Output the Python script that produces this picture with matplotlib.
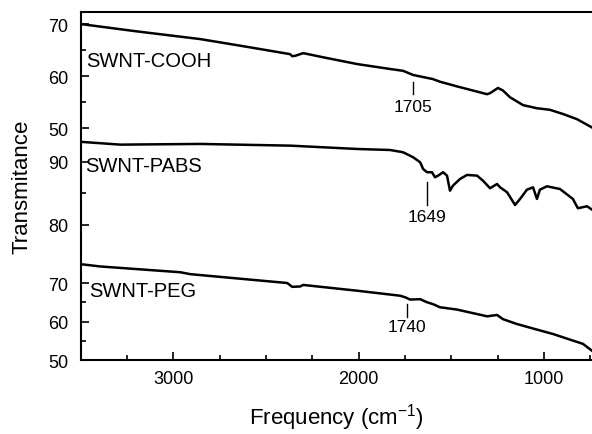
import matplotlib
matplotlib.use("Agg")
import matplotlib.pyplot as plt
from matplotlib.ticker import MultipleLocator, FixedLocator

plt.rcParams['font.family'] = ['Liberation Sans', 'DejaVu Sans']
plt.rcParams['mathtext.fontset'] = 'custom'
plt.rcParams['mathtext.rm'] = 'Liberation Sans'
plt.rcParams['mathtext.it'] = 'Liberation Sans'

# ---- data ----
cooh_x = [3500, 3200, 2854, 2600, 2369, 2358, 2340, 2299, 2191, 2008, 1830, 1760, 1706,
          1598, 1561, 1469, 1307, 1291, 1248, 1221, 1183, 1113, 1038, 968, 898, 822, 741]
cooh_y = [70.0, 68.6, 67.1, 65.6, 64.2, 63.8, 63.9, 64.4, 63.6, 62.3, 61.35, 61.0, 60.2,
          59.4, 58.9, 58.0, 56.5, 56.7, 57.7, 57.2, 55.9, 54.4, 53.8, 53.5, 52.7, 51.7, 50.1]

pabs_x = [3500, 3286, 2854, 2369, 2191, 2008, 1830, 1760, 1706, 1668, 1652, 1631, 1604,
          1588, 1571, 1544, 1523, 1507, 1491, 1453, 1415, 1361, 1329, 1291, 1253, 1237,
          1199, 1156, 1129, 1092, 1059, 1038, 1022, 984, 914, 844, 817, 768, 741]
pabs_y = [93.2, 92.75, 92.86, 92.59, 92.33, 92.06, 91.9, 91.54, 90.75, 89.95, 88.89, 88.37, 88.37,
          87.57, 87.83, 88.37, 87.83, 85.44, 86.24, 87.3, 87.94, 87.83, 87.03, 85.83, 86.51, 85.98,
          85.19, 83.17, 84.13, 85.6, 85.98, 84.13, 85.6, 86.14, 85.71, 84.13, 82.65, 82.97, 82.43]

peg_x = [3500, 3394, 2962, 2908, 2385, 2358, 2315, 2299, 2008, 1776, 1749, 1722, 1668,
         1631, 1598, 1561, 1469, 1307, 1253, 1221, 1146, 1038, 951, 860, 790, 741]
peg_y = [74.9, 74.3, 72.8, 72.3, 70.0, 69.0, 69.1, 69.5, 68.0, 66.7, 66.3, 65.7, 65.8,
         65.0, 64.5, 63.7, 63.1, 61.35, 61.7, 60.6, 59.35, 57.9, 56.75, 55.3, 54.2, 52.4]

names = ['SWNT-COOH', 'SWNT-PABS', 'SWNT-PEG']
peaks = [1705, 1649, 1740]
x_ticks = [3000, 2000, 1000]

# ---- figure ----
fig = plt.figure(figsize=(5.92, 4.35), dpi=100)
rect = [80.5 / 592, 1 - 361 / 435, 1 - 80.5 / 592, (361 - 13) / 435]

ax0 = fig.add_axes(rect)
ax0.set_xlim(3500, 741)
ax0.set_ylim(0, 1)
ax0.set_yticks([])
ax0.spines['right'].set_visible(False)
for s in ['top', 'left', 'bottom']:
    ax0.spines[s].set_linewidth(1.5)
ax0.xaxis.set_major_locator(FixedLocator(x_ticks))
ax0.xaxis.set_minor_locator(MultipleLocator(250))
ax0.tick_params(axis='x', which='major', direction='in', length=6, width=1.2,
                labelsize=13, pad=7)
ax0.tick_params(axis='x', which='minor', direction='in', length=3.5, width=1.2)
ax0.set_xlabel('Frequency (cm$^{-1}$)', fontsize=16, labelpad=10)
fig.text(22 / 592, 1 - 187 / 435, 'Transmitance', fontsize=16, rotation=90,
         ha='center', va='center')

panel_ylims = [(5.38, 72.31), (58.57, 113.8), (50.0, 140.4)]
major_ticks = [[50, 60, 70], [80, 90], [50, 60, 70]]
minor_ticks = [[55, 65], [85], [55, 65]]
series = [(cooh_x, cooh_y), (pabs_x, pabs_y), (peg_x, peg_y)]
label_pos = [(3470, 63.0), (3475, 89.5), (3455, 68.0)]
peak_line = [(58.9, 56.6), (86.8, 83.2), (64.6, 61.3)]
peak_text = [54.2, 81.3, 58.8]
peak_xpos = [1705, 1630, 1740]

for i in range(3):
    ax = fig.add_axes(rect, sharex=ax0)
    ax.patch.set_visible(False)
    for s in ax.spines.values():
        s.set_visible(False)
    ax.set_ylim(*panel_ylims[i])
    ax.yaxis.set_major_locator(FixedLocator(major_ticks[i]))
    ax.yaxis.set_minor_locator(FixedLocator(minor_ticks[i]))
    ax.tick_params(axis='y', which='major', direction='in', length=6, width=1.2,
                   labelsize=13, pad=9)
    ax.tick_params(axis='y', which='minor', direction='in', length=3.5, width=1.2)
    ax.tick_params(axis='x', which='both', bottom=False, labelbottom=False)
    xs, ys = series[i]
    ax.plot(xs, ys, color='black', lw=1.8)
    ax.text(label_pos[i][0], label_pos[i][1], names[i], fontsize=14.5,
            ha='left', va='center')
    ax.plot([peak_xpos[i], peak_xpos[i]], list(peak_line[i]), color='black', lw=1.0)
    ax.text(peak_xpos[i], peak_text[i], str(peaks[i]), fontsize=12.5,
            ha='center', va='center')

fig.savefig('out.png', dpi=100)
